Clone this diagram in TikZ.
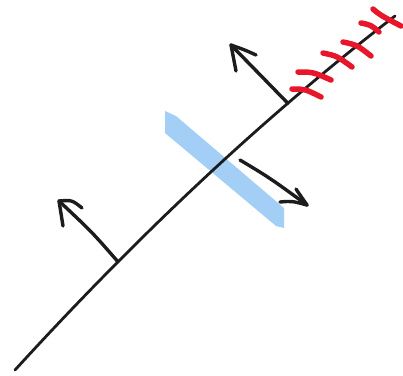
\documentclass[tikz,border=0pt]{standalone}
\definecolor{bandblue}{RGB}{163,207,246}
\definecolor{hatchred}{RGB}{232,22,42}
\definecolor{ink}{RGB}{28,28,28}
\tikzset{
  mainline/.style={draw=ink, line width=2.8pt, line cap=round},
  arrowstroke/.style={draw=ink, line width=3.4pt, line cap=round, line join=round},
  hatch/.style={draw=hatchred, line width=5.5pt, line cap=round},
}
\begin{document}
\begin{tikzpicture}[x=1pt,y=-1pt]
\useasboundingbox (0,0) rectangle (403,375);
% blue band
\fill[bandblue] (165,111) -- (176,116) -- (284,208) -- (284,228) -- (276,226) -- (165,133) -- cycle;
% coordinates
\coordinate (start) at (15,370);
\coordinate (finish) at (395,16);
\coordinate (a1tip) at (231,45);
\coordinate (a2base) at (240,160);
\coordinate (a2tip) at (307,205);
\coordinate (a3tip) at (59,201);
% main line (slightly bowed)
\draw[mainline] (start) .. controls (141.7,231.3) and (268.3,113.3) .. (finish)
  coordinate[pos=0.271] (a3base)
  coordinate[pos=0.718] (a1base);
% red hatches
\draw[hatch] (292,89) .. controls (305,89) .. (321,97);
\draw[hatch] (298,72) .. controls (313,72) .. (331,80);
\draw[hatch] (323,53) .. controls (337,56) .. (352,67);
\draw[hatch] (343,42) .. controls (357,45) .. (371,56);
\draw[hatch] (361,23) .. controls (371,25) .. (379,32);
\draw[hatch] (373,9) .. controls (380,15) .. (401,26);
% arrow 1 (top)
\draw[arrowstroke] (a1base) -- (a1tip);
\draw[arrowstroke] (a1tip) -- (236,71);
\draw[arrowstroke] (a1tip) .. controls (245,50) .. (256,55);
% arrow 2 (across band)
\draw[arrowstroke] (a2base) .. controls (270,178) .. (a2tip);
\draw[arrowstroke] (a2tip) .. controls (300,195) .. (296,189);
\draw[arrowstroke] (a2tip) .. controls (292,201) .. (280,202);
% arrow 3 (lower)
\draw[arrowstroke] (a3base) .. controls (92,232) .. (a3tip);
\draw[arrowstroke] (a3tip) -- (63,226);
\draw[arrowstroke] (a3tip) .. controls (72,200) .. (82,208);
\end{tikzpicture}
\end{document}
